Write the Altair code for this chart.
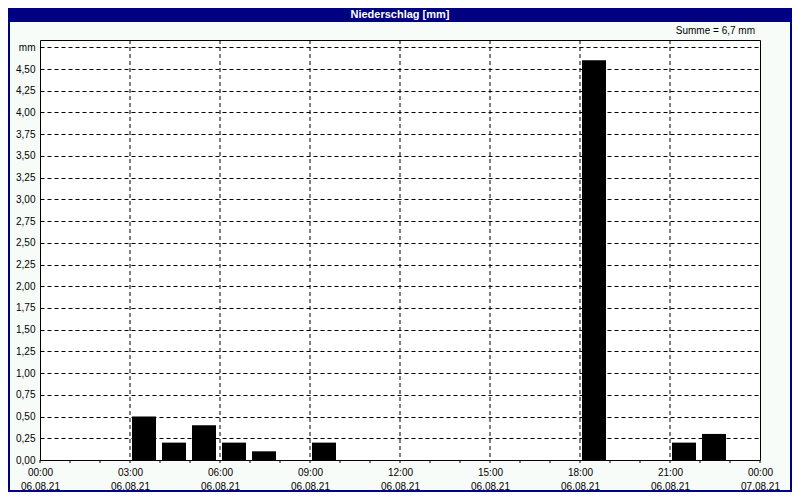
import altair as alt
import pandas as pd

# Hourly precipitation on 06.08.21 (hour of day -> mm)
hours = [3, 4, 5, 6, 7, 9, 18, 21, 22]
precip = [0.5, 0.2, 0.4, 0.2, 0.1, 0.2, 4.6, 0.2, 0.3]

x_tick_hours = list(range(0, 25))
x_label_hours = [0, 3, 6, 9, 12, 15, 18, 21, 24]
x_label_times = ["00:00", "03:00", "06:00", "09:00", "12:00", "15:00", "18:00", "21:00", "00:00"]
x_label_dates = ["06.08.21"] * 8 + ["07.08.21"]
grid_hours = [3, 6, 9, 12, 15, 18, 21]
y_ticks = [i * 0.25 for i in range(0, 20)]  # 0.00 .. 4.75 (top one labelled "mm")

title_text = "Niederschlag [mm]"
FONT = "Liberation Sans Narrow, Liberation Sans, sans-serif"
NAVY = "#000080"
BG = "#f8fcf8"

W, H = 720, 420

df = pd.DataFrame({"hour": hours, "mm": precip})
grid_df = pd.DataFrame({"hour": grid_hours})
tick_df = pd.DataFrame({"hour": x_tick_hours})

xscale = alt.Scale(domain=[0, 24], nice=False, zero=False)
yscale = alt.Scale(domain=[0, 4.834], nice=False, zero=True)

time_arr = "[" + ",".join(f"'{t}'" for t in x_label_times) + "]"
date_arr = "[" + ",".join(f"'{d}'" for d in x_label_dates) + "]"

x_axis = alt.Axis(
    values=x_label_hours,
    labelExpr=f"[{time_arr}[round(datum.value/3)], {date_arr}[round(datum.value/3)]]",
    grid=False, domain=False, ticks=False,
    labelFont=FONT, labelFontSize=10, labelColor="black", labelPadding=7,
    labelLineHeight=14, labelOverlap=False, labelFlush=False, labelBound=False,
    title=None,
)
y_axis = alt.Axis(
    values=y_ticks,
    labelExpr="datum.value > 4.7 ? 'mm' : replace(format(datum.value, '.2f'), '.', ',')",
    grid=True, gridColor="black", gridDash=[4, 3], gridWidth=1, gridOpacity=1,
    domain=False, ticks=False, labelPadding=5,
    labelFont=FONT, labelFontSize=10, labelColor="black", title=None,
)

bars = alt.Chart(df).transform_calculate(
    x0="datum.hour + 2/30", x1="datum.hour + 26/30"
).mark_rect(color="black").encode(
    x=alt.X("x0:Q", scale=xscale, axis=x_axis),
    x2="x1:Q",
    y=alt.Y("mm:Q", scale=yscale, axis=y_axis),
    y2=alt.datum(0),
)

vgrid = alt.Chart(grid_df).mark_rule(
    color="black", strokeDash=[4, 3], strokeWidth=1
).encode(
    x=alt.X("hour:Q", scale=xscale),
    y=alt.value(0), y2=alt.value(H),
)

hour_ticks = alt.Chart(tick_df).mark_rule(color="black", strokeWidth=1, clip=False).encode(
    x=alt.X("hour:Q", scale=xscale),
    y=alt.value(H), y2=alt.value(H + 3),
)

one = pd.DataFrame({"k": [0]})

title_bar = alt.Chart(one).mark_rect(color=NAVY, clip=False).encode(
    x=alt.value(-32), x2=alt.value(W + 32), y=alt.value(-32), y2=alt.value(-18)
)
title_txt = alt.Chart(one).mark_text(
    text=title_text, color="white", font=FONT, fontSize=11, fontWeight="bold",
    align="center", baseline="middle", clip=False,
).encode(x=alt.value(W / 2), y=alt.value(-25))

border_left = alt.Chart(one).mark_rule(color=NAVY, strokeWidth=2, clip=False).encode(
    x=alt.value(-31), y=alt.value(-32), y2=alt.value(H + 32)
)
border_right = alt.Chart(one).mark_rule(color=NAVY, strokeWidth=2, clip=False).encode(
    x=alt.value(W + 31), y=alt.value(-32), y2=alt.value(H + 32)
)
border_bottom = alt.Chart(one).mark_rule(color=NAVY, strokeWidth=2, clip=False).encode(
    x=alt.value(-32), x2=alt.value(W + 32), y=alt.value(H + 31)
)

summe = alt.Chart(df).transform_aggregate(total="sum(mm)").transform_calculate(
    label="'Summe = ' + replace(format(datum.total, '.1f'), '.', ',') + ' mm'"
).mark_text(
    font=FONT, fontSize=10, color="black", align="right", baseline="middle", clip=False
).encode(x=alt.value(W - 5), y=alt.value(-9), text="label:N")

chart = alt.layer(
    vgrid, bars, hour_ticks, title_bar, title_txt, summe,
    border_left, border_right, border_bottom
).properties(
    width=W, height=H,
    autosize=alt.AutoSizeParams(type="none"),
    padding={"left": 32, "top": 32, "right": 32, "bottom": 32},
    background=BG,
).configure_view(
    stroke="black", strokeWidth=1, fill="white"
)

chart.save("out.html", embed_options={"renderer": "svg", "actions": False})
